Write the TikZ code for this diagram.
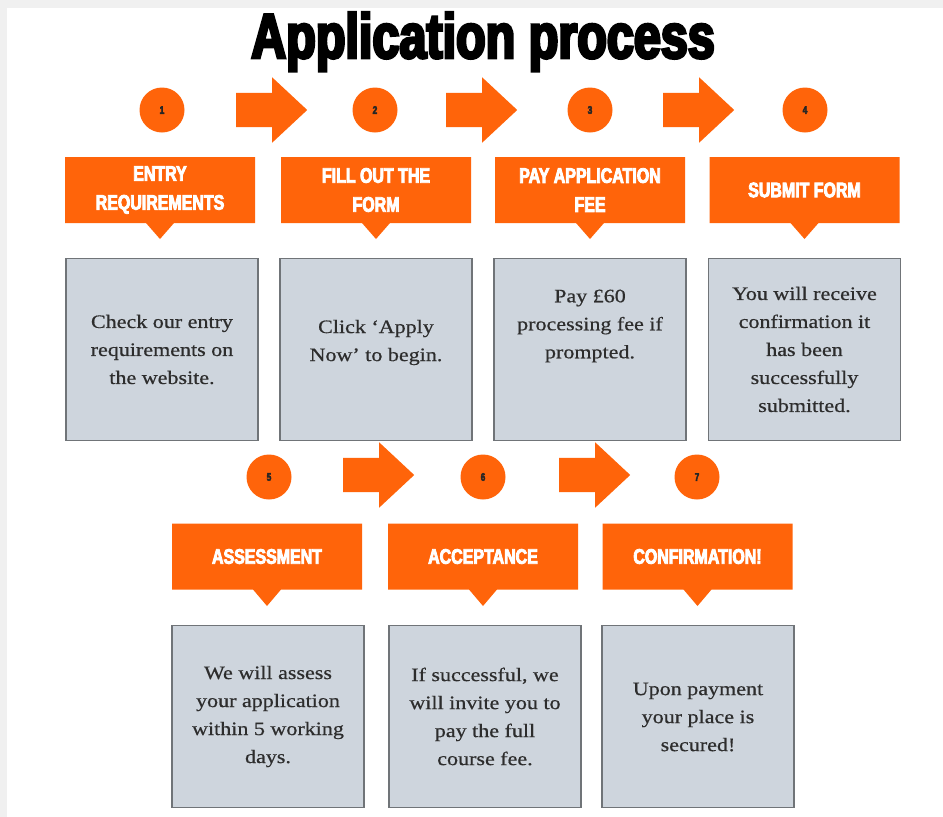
\documentclass[tikz,border=0pt]{standalone}
\usepackage{fontspec}
\usetikzlibrary{shapes.arrows,shapes.callouts}
\newfontfamily\titlefont{Liberation Sans}[FakeStretch=0.77,BoldFeatures={FakeBold=4.5}]
\newfontfamily\impactfont{Liberation Sans}[FakeStretch=0.76,BoldFeatures={FakeBold=4}]
\newfontfamily\bodyfont{Liberation Serif}[FakeStretch=1.16,FakeBold=0.6]
\definecolor{orng}{RGB}{255,100,10}
\definecolor{boxgray}{RGB}{206,213,221}
\definecolor{boxedge}{RGB}{112,116,120}
\definecolor{bandgray}{RGB}{240,240,240}
\definecolor{bodytext}{RGB}{45,45,45}
\begin{document}
\begin{tikzpicture}[x=1pt,y=-1pt,
  stepnum/.style={circle,fill=orng,minimum size=45pt,inner sep=0pt,font=\impactfont\bfseries\fontsize{11}{11}\selectfont,text=black!85},
  flowarrow/.style={single arrow,fill=orng,minimum height=71pt,minimum width=65pt,single arrow head extend=15.5pt,single arrow tip angle=86,inner sep=0pt,anchor=west},
  stagelabel/.style={rectangle callout,fill=orng,minimum width=190pt,minimum height=66pt,callout pointer width=28pt,text=white,align=center,inner sep=0pt,font=\impactfont\bfseries\fontsize{21}{29}\selectfont},
  infobox/.style={rectangle,fill=boxgray,draw=boxedge,line width=1.8pt,minimum width=192pt,minimum height=182pt,inner sep=0pt},
  infotext/.style={align=center,text=bodytext,font=\bodyfont\fontsize{19}{28}\selectfont,inner sep=0pt}
]
\useasboundingbox (0,0) rectangle (943,817);
\fill[white] (0,0) rectangle (943,817);
\fill[bandgray] (0,0) rectangle (943,8);
\fill[bandgray] (0,0) rectangle (7,817);

\node[font=\titlefont\bfseries\fontsize{63}{63}\selectfont,anchor=base,inner sep=0pt] (title) at (483,58) {Application process};

% circles
\node[stepnum] (c1) at (162,110) {1};
\node[stepnum] (c2) at (375,110) {2};
\node[stepnum] (c3) at (590,110) {3};
\node[stepnum] (c4) at (805,110) {4};
\node[stepnum] (c5) at (269,477) {5};
\node[stepnum] (c6) at (483,477) {6};
\node[stepnum] (c7) at (697,477) {7};

% arrows
\node[flowarrow] (a1) at (236,110) {\rule{0pt}{34pt}};
\node[flowarrow] (a2) at (446,110) {\rule{0pt}{34pt}};
\node[flowarrow] (a3) at (663,110) {\rule{0pt}{34pt}};
\node[flowarrow] (a5) at (343,475) {\rule{0pt}{34pt}};
\node[flowarrow] (a6) at (559,475) {\rule{0pt}{34pt}};

% labels
\node[stagelabel,callout absolute pointer={(160,239)}] (l1) at (160,190) {ENTRY\\REQUIREMENTS};
\node[stagelabel,callout absolute pointer={(376,239)}] (l2) at (376,190) {FILL OUT THE\\FORM};
\node[stagelabel,callout absolute pointer={(590,239)}] (l3) at (590,190) {PAY APPLICATION\\FEE};
\node[stagelabel,callout absolute pointer={(804.5,239)}] (l4) at (804.5,190) {SUBMIT FORM};
\node[stagelabel,callout absolute pointer={(267,606)}] (l5) at (267,556.5) {ASSESSMENT};
\node[stagelabel,callout absolute pointer={(483,606)}] (l6) at (483,556.5) {ACCEPTANCE};
\node[stagelabel,callout absolute pointer={(697.5,606)}] (l7) at (697.5,556.5) {CONFIRMATION!};

% boxes
\node[infobox] (b1) at (162,349.5) {};
\node[infobox] (b2) at (376,349.5) {};
\node[infobox] (b3) at (590,349.5) {};
\node[infobox] (b4) at (804.5,349.5) {};
\node[infobox] (b5) at (268,716.5) {};
\node[infobox] (b6) at (485,716.5) {};
\node[infobox] (b7) at (698,716.5) {};

\node[infotext] (t1) at (b1.center) {Check our entry\\requirements on\\the website.};
\node[infotext] (t2) at (376,342.5) {Click ‘Apply\\Now’ to begin.};
\node[infotext] (t3) at (590,326) {Pay £60\\processing fee if\\prompted.};
\node[infotext] (t4) at (b4.center) {You will receive\\confirmation it\\has been\\successfully\\submitted.};
\node[infotext] (t5) at (b5.center) {We will assess\\your application\\within 5 working\\days.};
\node[infotext] (t6) at (b6.center) {If successful, we\\will invite you to\\pay the full\\course fee.};
\node[infotext] (t7) at (698,717) {Upon payment\\your place is\\secured!};
\end{tikzpicture}
\end{document}
